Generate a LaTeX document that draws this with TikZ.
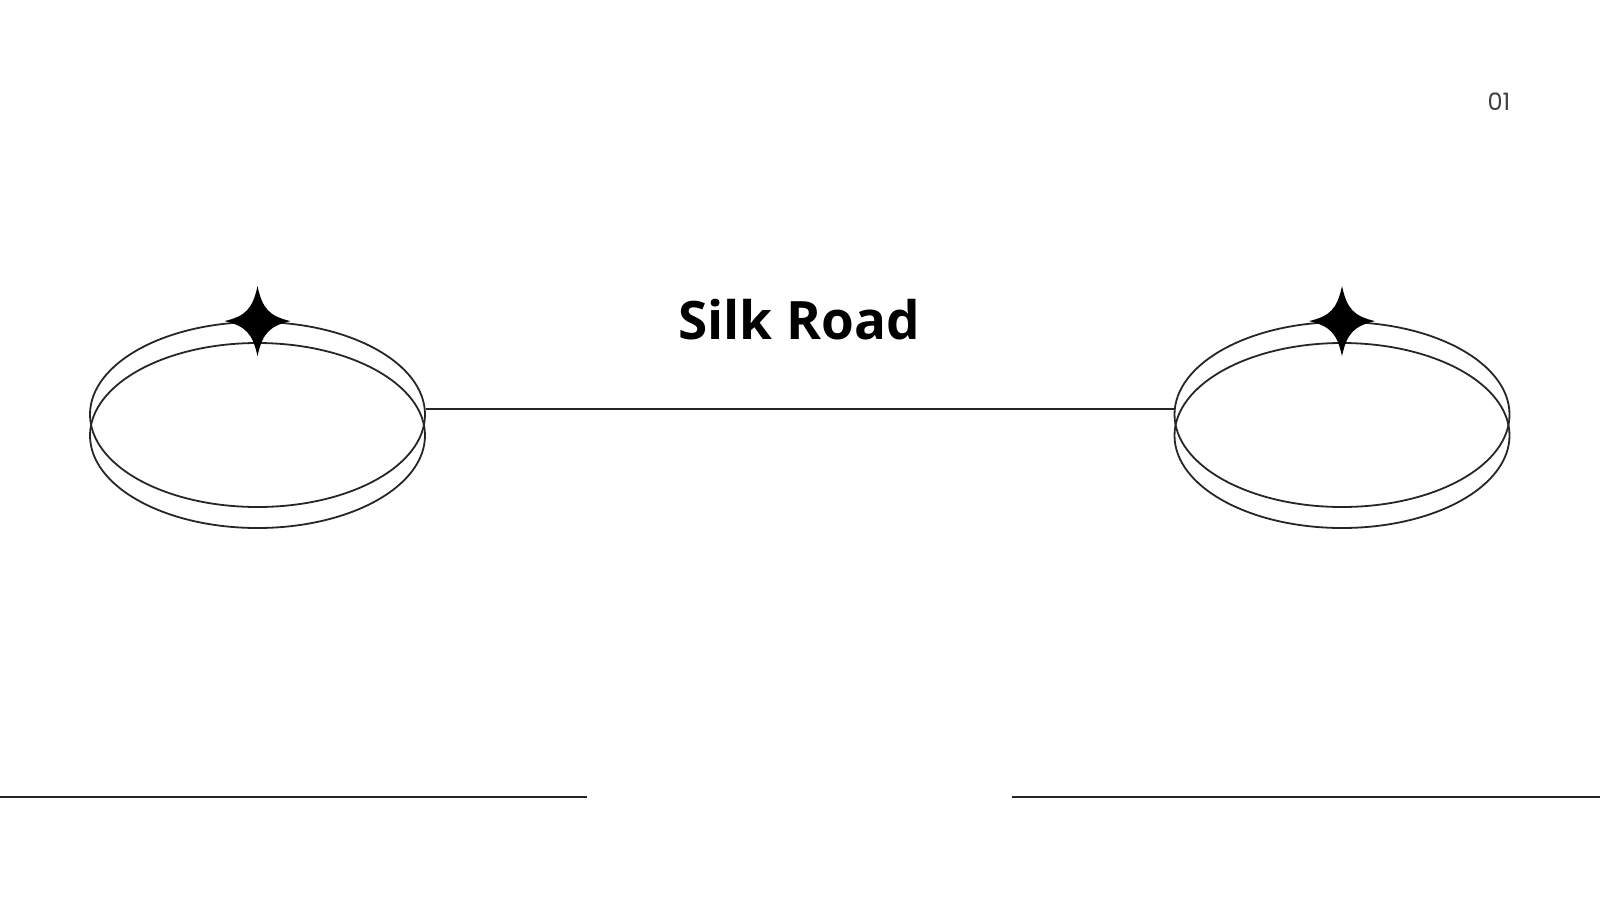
\documentclass[tikz,border=0pt]{standalone}
\usepackage{fontspec}
\setmainfont{Open Sans}
\newfontfamily\numfont{Poppins}
\usetikzlibrary{shapes.geometric}

\begin{document}
\begin{tikzpicture}%
	[x=1pt, y=-1pt,
	rim/.style={ellipse, draw=black!85, line width=1.8pt, inner sep=0pt,
		minimum width=335pt, minimum height=185pt},
	road/.style={draw=black!85, line width=1.8pt},
	rule/.style={draw=black!85, line width=1.8pt},
	title/.style={font=\fontsize{53}{64}\selectfont\bfseries, anchor=base, inner sep=0pt},
	pagenum/.style={font=\numfont\fontsize{24}{28}\selectfont, text=black!75, anchor=base, inner sep=0pt},
	sparkle/.pic={\fill[black] (0,-35) .. controls (5,-12) and (12,-5) .. (33,0)
		.. controls (12,5) and (5,12) .. (0,35)
		.. controls (-5,12) and (-12,5) .. (-33,0)
		.. controls (-12,-5) and (-5,-12) .. cycle;}]
	%
	\useasboundingbox (0,0) rectangle (1600,900);
	%
	%% the two rings on the left
	\node[rim] (leftlow) at (257.5,435.5) {};
	\node[rim] (lefttop) at (257.5,414.5) {};
	%% the two rings on the right
	\node[rim] (rightlow) at (1342,435.5) {};
	\node[rim] (righttop) at (1342,414.5) {};
	%
	%% sparkles on the rings
	\pic at (lefttop.north) {sparkle};
	\pic at (righttop.north) {sparkle};
	%
	%% the road between them
	\draw[road] (lefttop.2) -- (righttop.178);
	%
	%% texts
	\node[title] (name) at (799,339) {Silk Road};
	\node[pagenum] (page) at (1499,110) {01};
	%
	%% rules at the bottom
	\coordinate (rulea) at (0,797);
	\coordinate (ruleb) at (587,797);
	\coordinate (rulec) at (1012,797);
	\coordinate (ruled) at (1600,797);
	\draw[rule] (rulea) -- (ruleb);
	\draw[rule] (rulec) -- (ruled);
\end{tikzpicture}
\end{document}
